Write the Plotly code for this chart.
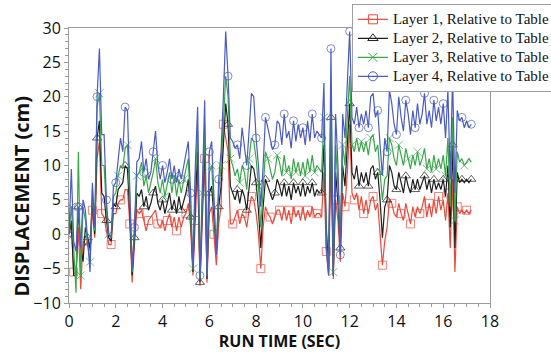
import plotly.graph_objects as go

time_s = [
    0.0, 0.1, 0.2, 0.3, 0.4, 0.5, 0.6, 0.7, 0.8, 0.9,
    1.0, 1.1, 1.2, 1.3, 1.4, 1.5, 1.6, 1.7, 1.8, 1.9,
    2.0, 2.1, 2.2, 2.3, 2.4, 2.5, 2.6, 2.7, 2.8, 2.9,
    3.0, 3.1, 3.2, 3.3, 3.4, 3.5, 3.6, 3.7, 3.8, 3.9,
    4.0, 4.1, 4.2, 4.3, 4.4, 4.5, 4.6, 4.7, 4.8, 4.9,
    5.0, 5.1, 5.2, 5.3, 5.4, 5.5, 5.6, 5.7, 5.8, 5.9,
    6.0, 6.1, 6.2, 6.3, 6.4, 6.5, 6.6, 6.7, 6.8, 6.9,
    7.0, 7.1, 7.2, 7.3, 7.4, 7.5, 7.6, 7.7, 7.8, 7.9,
    8.0, 8.1, 8.2, 8.3, 8.4, 8.5, 8.6, 8.7, 8.8, 8.9,
    9.0, 9.1, 9.2, 9.3, 9.4, 9.5, 9.6, 9.7, 9.8, 9.9,
    10.0, 10.1, 10.2, 10.3, 10.4, 10.5, 10.6, 10.7, 10.8, 10.9,
    11.0, 11.1, 11.2, 11.3, 11.4, 11.5, 11.6, 11.7, 11.8, 11.9,
    12.0, 12.1, 12.2, 12.3, 12.4, 12.5, 12.6, 12.7, 12.8, 12.9,
    13.0, 13.1, 13.2, 13.3, 13.4, 13.5, 13.6, 13.7, 13.8, 13.9,
    14.0, 14.1, 14.2, 14.3, 14.4, 14.5, 14.6, 14.7, 14.8, 14.9,
    15.0, 15.1, 15.2, 15.3, 15.4, 15.5, 15.6, 15.7, 15.8, 15.9,
    16.0, 16.1, 16.2, 16.3, 16.4, 16.5, 16.6, 16.7, 16.8, 16.9,
    17.0, 17.1, 17.2,
]

layer1 = [
    0, 1.5, -5.5, -6, 1, -8, -1, -1.5, -1, -2.5,
    3.5, -0.5, 11, 13.5, 3, 2.5, 0.5, -1.5, -1.5, 3,
    3, 4.5, 5, 5, 6.5, 6.5, 1.5, -7, -1.5, 3.5,
    3, 3.5, 2, 0.5, 2, 2.5, 3, 3.5, 1.5, 1,
    2, 0.5, 2, 3, 1, 2.5, 0.5, 2.5, 1, 2.5,
    3, 4.5, 1, -6, 2, 10, -7.5, 1, 11, -7,
    3, 4, 0, -4.5, 1.5, 4, 16, 14, 12, 1.5,
    1.5, 2.5, 3.5, 1.5, 3, 2.5, 1, 3.5, 5.5, 5,
    3, 0, -5, 1, 4, 3, 2.5, 1.5, 2.5, 3.5,
    3.5, 2, 4, 2, 3.5, 1.5, 4, 2.5, 3.5, 2,
    4, 2, 3.5, 2.5, 4, 2.5, 3, 3, 2.5, 9,
    -2.5, -6, 11, -6.5, 5, 2, -4, 6, 4, 9,
    16, 6, 5, 6, 3.5, 5.5, 3, 5, 3, 5,
    5.5, 3.5, 4.5, 0, -4.5, -1, 1, 5, 4.5, 3,
    2.5, 4.5, 3, 2, 4.5, 3, 1.5, 4, 2.5, 4,
    3, 4, 5.5, 2.5, 4.5, 2.5, 5, 3, 5.5, 3.5,
    5, 2, 6, -2, 8, -5.5, 4, 3, 3.5, 3,
    3.5, 3, 3.5,
]

layer2 = [
    0, 2, -6, -6, 4, -2, -4, 1, -0.5, -2,
    5, 0, 14, 16.5, 6, 5.5, 2, -0.5, -1, 4.5,
    4, 6.5, 7, 7.5, 10, 9.5, 3, -6, -0.5, 6,
    5.5, 6.5, 4, 5.5, 3.5, 4.5, 6, 7, 4.5, 3.5,
    5, 3, 4.5, 6, 3.5, 5, 3, 5.5, 3.5, 5,
    6, 8, 2.5, -5.5, 5, 12, -7, 4, 13, -6.5,
    6, 7, 1.5, -2.5, 4, 7, 13, 19, 16, 7,
    6, 5, 6.5, 4.5, 6.5, 5.5, 3.5, 7, 10, 9.5,
    7.5, 3.5, -2, 4, 8, 7, 6, 5, 6, 8,
    7, 5.5, 7.5, 5.5, 7, 5, 7.5, 6, 7, 5.5,
    7.5, 5.5, 7, 6, 7.5, 5.5, 6.5, 6, 6, 13,
    1, -5, 17, -6, 9, 4.5, -2, 10, 7, 13,
    19, 9, 8, 10, 7, 9, 7.5, 9, 7, 9.5,
    10, 8, 9, 5, -0.5, 4, 5, 10, 9, 7,
    6.5, 9, 7.5, 6, 8.5, 7, 6, 8, 6.5, 8,
    6.5, 7.5, 8.5, 6.5, 8, 6, 8, 6.5, 7.5, 6.5,
    8, 5.5, 10, 1, 13, -2, 9, 7.5, 8, 7.5,
    8, 7.5, 8,
]

layer3 = [
    0, 4, -2, -8.5, 12, -6, 4, 2, -1.5, -4,
    6.5, 0.5, 18.5, 20.5, 10, 10, 3.5, 0, -0.5, 5.5,
    6, 8.5, 10, 9.5, 12.5, 13, 5, -5.5, 0.5, 8.5,
    9, 10.5, 7, 8.5, 6, 7.5, 9, 11, 7.5, 6,
    8, 5.5, 7.5, 9, 6, 8.5, 5.5, 8, 6, 8,
    9.5, 11, 4, -5, 8, 15, -6.5, 6, 16, -6,
    9, 10, 3, -2.5, 6, 10, 16, 23, 20, 11,
    10, 8.5, 9.5, 7.5, 10, 9, 6.5, 11, 14, 13.5,
    11, 7, 1, 7, 12, 11, 9.5, 8, 9, 11.5,
    10.5, 8.5, 11.5, 9, 10, 8, 11, 9, 10.5, 8.5,
    10.5, 8.5, 11, 9, 11.5, 9, 10, 9.5, 9, 17,
    -1, -5.5, 21, -5.5, 13, 7, -2.5, 13, 10, 17,
    23, 13, 12, 14, 12, 13.5, 12, 13.5, 11.5, 14,
    14.5, 12, 13, 9, 5, 8, 8.5, 14, 13, 11,
    10, 13, 11.5, 10, 12.5, 11, 9.5, 11.5, 10, 12,
    10, 11, 12.5, 9.5, 11, 9, 11.5, 9.5, 11, 9.5,
    11.5, 8.5, 14, 4, 17, 2, 12, 10.5, 11, 10,
    10.5, 11, 10.5,
]

layer4 = [
    0, 9.5, -1, -2.5, 4, -2, 5, 3.5, -1, -5.5,
    7.5, 1, 20, 27, 14.5, 14.5, 5, 0, -0.5, 7,
    7.5, 10.5, 14, 12, 18.5, 18, 8, -5, 1, 10.5,
    11, 13.5, 9, 11, 8, 9, 12, 15, 10, 8,
    10, 7.5, 9, 11, 8, 10, 7.5, 9.5, 8, 10,
    12, 13.5, 6, -5, 10, 18.5, -6, 8, 19.5, -6,
    12, 13.5, 4, -3, 8, 12, 20, 29.5, 23, 14,
    13.5, 12.5, 13, 11, 15.5, 13, 10, 15, 20.5, 20,
    14, 10, 4, 10, 17, 15.5, 14, 12.3, 13, 16.5,
    16, 13, 17.5, 14, 15, 12.5, 16.5, 13.5, 16, 14,
    15.5, 13, 16.5, 13.5, 17.5, 14, 15, 14.5, 14, 22,
    -2, -6, 27, -6, 17.5, 10, -3, 17.5, 14, 22,
    29.5, 17, 16, 18.5, 15.5, 17.5, 16, 18, 15.5, 20,
    20.5, 17, 18, 13, 8.5, 14, 12, 21, 19, 16,
    14.5, 20, 17, 15, 19.5, 17.5, 14.5, 18, 15.5, 19,
    16, 17.5, 20.5, 16, 18, 15.5, 19.5, 16.5, 18.5, 16,
    19, 14, 21, 8, 23, 6, 18, 16.5, 17, 15.5,
    16.5, 15.5, 16,
]

series_names = [
    "Layer 1, Relative to Table",
    "Layer 2, Relative to Table",
    "Layer 3, Relative to Table",
    "Layer 4, Relative to Table",
]
series_values = [layer1, layer2, layer3, layer4]
colors = ["#ec4a3c", "#1e1e1e", "#3aa84a", "#4a5bc4"]
symbols = ["square-open", "triangle-up-open", "x-thin-open", "circle-open"]
marker_offsets = [2, 0, 1, 0]

serif = "Liberation Serif, Times New Roman, DejaVu Serif, serif"

fig = go.Figure()
for name, vals, col, sym, off in zip(series_names, series_values, colors, symbols, marker_offsets):
    sizes = [8 if (i % 4) == off else 0 for i in range(len(vals))]
    fig.add_trace(go.Scatter(
        x=time_s, y=vals, mode="lines+markers", showlegend=False,
        line=dict(color=col, width=1.2),
        marker=dict(symbol=sym, size=sizes, color=col, line=dict(color=col, width=1)),
    ))
for name, col, sym in zip(series_names, colors, symbols):
    fig.add_trace(go.Scatter(
        x=[None], y=[None], mode="lines+markers",
        name='<span style="font-size:15px">' + name + '</span>',
        line=dict(color=col, width=1.2),
        marker=dict(symbol=sym, size=9, color=col, line=dict(color=col, width=1)),
    ))

axis_common = dict(
    showline=True, linecolor="#9a9a9a", linewidth=1, mirror=True,
    showgrid=False, zeroline=False, ticks="outside", ticklen=4,
    tickcolor="#9a9a9a", tickfont=dict(family="Open Sans", size=16, color="#111"),
)
fig.update_xaxes(
    range=[0, 18], dtick=2, tick0=0, ticklabelstandoff=0,
    minor=dict(dtick=0.5, ticks="outside", ticklen=3, tickcolor="#9a9a9a"),
    title=dict(text="<b>RUN TIME (SEC)</b>", font=dict(family="Open Sans", size=16, color="#111"), standoff=3),
    **axis_common,
)
fig.update_yaxes(
    range=[-10, 30], dtick=5, tick0=0,
    minor=dict(dtick=1, ticks="outside", ticklen=3, tickcolor="#9a9a9a"),
    **axis_common,
)
fig.add_annotation(
    text="<b>DISPLACEMENT (cm)</b>", textangle=-90,
    xref="paper", yref="paper", x=-0.112, y=0.39, xanchor="center", yanchor="middle",
    showarrow=False, font=dict(family="Open Sans", size=20, color="#111"),
)
fig.update_layout(
    width=551, height=352,
    margin=dict(l=69, r=61, t=28, b=49, autoexpand=False),
    paper_bgcolor="white", plot_bgcolor="white",
    legend=dict(
        x=0.672, y=1.088, xanchor="left", yanchor="top",
        bgcolor="white", bordercolor="#a0a0a0", borderwidth=1,
        font=dict(family=serif, size=11, color="#111"),
        tracegroupgap=0, itemwidth=30,
    ),
)
fig.write_html("out.html")
